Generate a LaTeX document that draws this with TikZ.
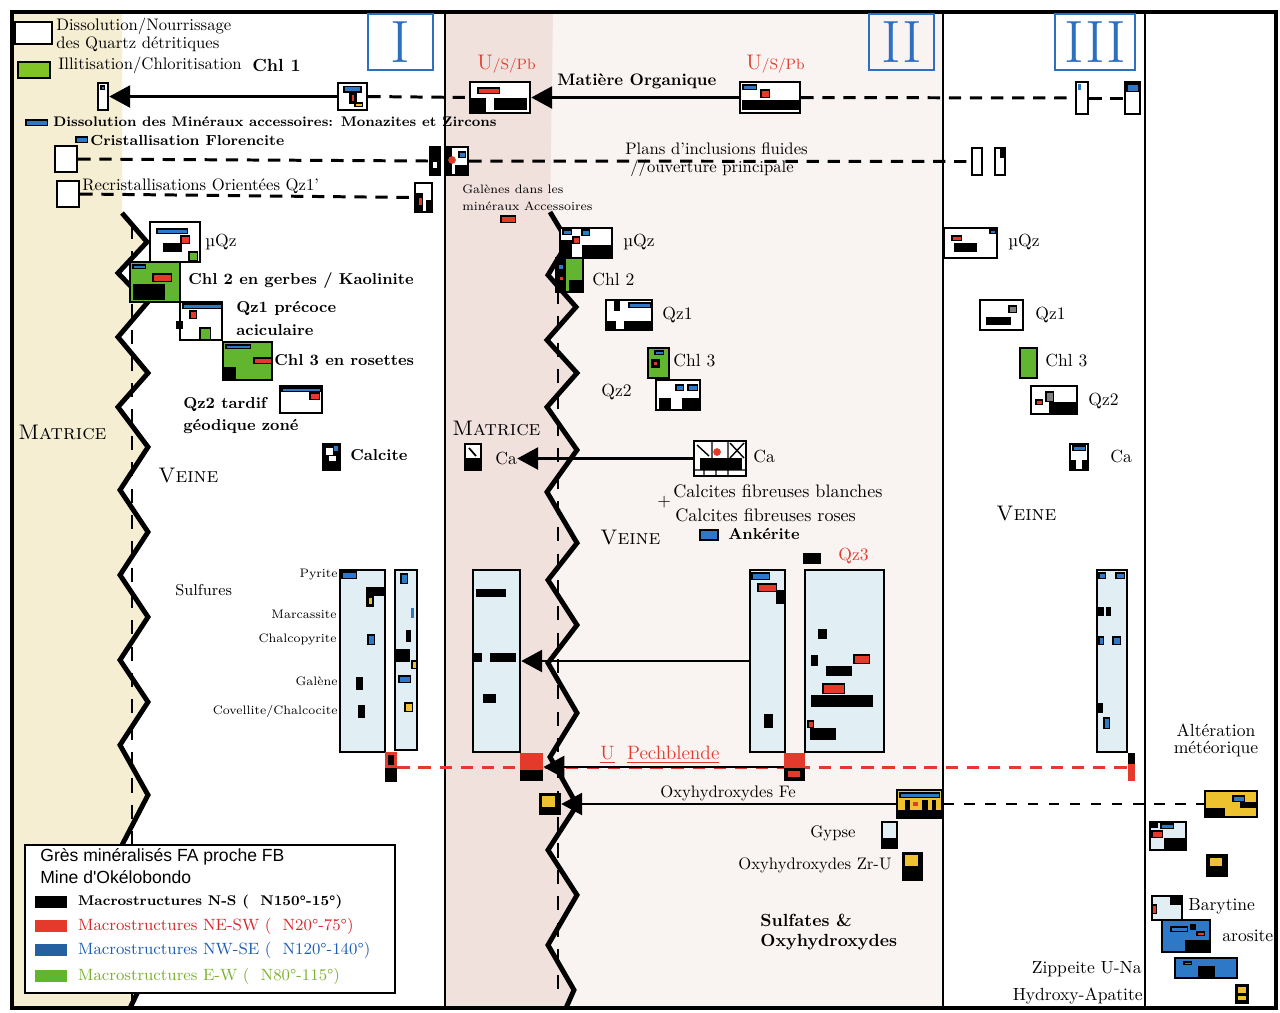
\documentclass[tikz,border=0pt]{standalone}
\usepackage{fontspec}
\newfontfamily\legfont{Liberation Sans}
\usetikzlibrary{arrows.meta, positioning, fit, calc}

\definecolor{matbeige}{HTML}{F5EED3}
\definecolor{matpink}{HTML}{F1E1DD}
\definecolor{veinpink}{HTML}{F9F3F2}
\definecolor{qzblue}{HTML}{E1EEF3}
\definecolor{mred}{HTML}{E43A2C}
\definecolor{mblue}{HTML}{2E78C8}
\definecolor{mgreen}{HTML}{62B52E}
\definecolor{myellow}{HTML}{EEC22E}
\definecolor{numblue}{HTML}{2F6FC0}
\definecolor{legred}{HTML}{D8262C}
\definecolor{legblue}{HTML}{1C5CB4}
\definecolor{leggreen}{HTML}{7CB030}

\tikzstyle{bigarrow} = [line width=1.6pt, -{Triangle[length=0.42cm,width=0.44cm]}]

\newcommand{\zigI}{(122,213) -- (147,242) -- (118,273) -- (147,303) -- (118,337) -- (148,373) -- (118,407) -- (148,447) -- (120,490) -- (148,532) -- (120,575) -- (148,617) -- (120,660) -- (148,702) -- (120,745) -- (148,795) -- (122,845) -- (146,890) -- (120,935) -- (146,975) -- (130,1008)}
\newcommand{\zigII}{(550,212) -- (568,242) -- (548,275) -- (576,307) -- (547,340) -- (577,373) -- (547,407) -- (577,450) -- (547,492) -- (577,543) -- (548,580) -- (577,625) -- (548,663) -- (577,713) -- (550,757) -- (577,805) -- (548,850) -- (577,895) -- (548,945) -- (574,990) -- (566,1008)}
\newcommand{\mk}[5]{\fill[#1] (#2,#3) rectangle (#4,#5);}
\newcommand{\bmk}[5]{\fill[black] (#2,#3) rectangle (#4,#5); \fill[#1] ($(#2,#3)+(1.5,1.5)$) rectangle ($(#4,#5)+(-1.5,-1.5)$);}

\begin{document}
\begin{tikzpicture}[
    x=0.02cm, y=-0.02cm,
    box/.style={draw=black, line width=1.4pt, inner sep=0pt, fill=white},
    qzbox/.style={box, fill=qzblue},
    chlbox/.style={box, fill=mgreen},
    numbox/.style={draw=numblue, line width=1.4pt, text=numblue, minimum width=1.3cm, minimum height=1.12cm, inner sep=0pt, font=\fontsize{34}{34}\selectfont},
    lab/.style={anchor=west, inner sep=0pt, font=\fontsize{10}{11}\selectfont},
    blab/.style={lab, font=\bfseries\fontsize{9}{10}\selectfont},
    slab/.style={lab, font=\fontsize{7}{8}\selectfont},
    zonelab/.style={lab, font=\fontsize{12}{13}\selectfont\scshape},
    swatch/.style={minimum width=0.66cm, minimum height=0.24cm, inner sep=0pt},
    dashline/.style={line width=1.7pt, dash pattern=on 7pt off 5pt},
    reddash/.style={dashline, mred},
    vdash/.style={line width=1.3pt, dash pattern=on 8pt off 7pt},
    zig/.style={line width=2.8pt, line join=miter}
]
\useasboundingbox (0,0) rectangle (1280,1012);
\fill[white] (0,0) rectangle (1280,1012);
\fill[veinpink] (445,12) rectangle (943,1008);
\fill[matbeige] (12,12) -- (122,12) -- \zigI -- (12,1008) -- cycle;
\fill[matpink] (445,12) -- (553,12) -- \zigII -- (445,1008) -- cycle;

% cadre et colonnes
\draw[line width=1.8pt] (12,12) rectangle (1276,1008);
\draw[line width=1.3pt] (445,12) -- (445,1008) (943,12) -- (943,1008) (1145,12) -- (1145,1008);
\draw[vdash] (132,225) -- (132,1000);
\draw[vdash] (558,290) -- (558,1000);
\draw[zig] \zigI;
\draw[zig] \zigII;

\node[numbox] (n1) at (400.5,42) {I};
\node[numbox] (n2) at (901.5,42) {II};
\node[numbox, minimum width=1.6cm] (n3) at (1095,42) {III};

% legende du haut
\node[box, fit={(15,22) (52,44)}] (lgw) {};
\node[box, fill=mgreen!80!yellow, fit={(18,62) (50,78)}] (lgg) {};
\node[lab, font=\fontsize{9.5}{10}\selectfont] (t1) at (56,26) {Dissolution/Nourrissage};
\node[lab, font=\fontsize{9.5}{10}\selectfont] (t2) at (56,44) {des Quartz détritiques};
\node[lab, font=\fontsize{9.5}{10}\selectfont] (t3) at (58,65) {Illitisation/Chloritisation};
\node[blab, font=\bfseries\fontsize{10}{11}\selectfont] (t4) at (252,65) {Chl 1};
\bmk{mblue}{25}{119}{48}{126}
\node[blab, font=\bfseries\fontsize{7.9}{10}\selectfont] (t5) at (53,122) {Dissolution des Minéraux accessoires: Monazites et Zircons};
\bmk{mblue}{75}{136}{88}{143}
\node[blab, font=\bfseries\fontsize{8.3}{10}\selectfont] (t6) at (90,140) {Cristallisation Florencite};

% rangee 1
\node[box, fit={(98,83) (108,110)}] (r1a) {};
\node[box, fit={(338,83) (367,110)}] (r1b) {};
\node[box, fit={(470,82) (530,113)}] (usp1) {};
\node[box, fit={(740,82) (800,113)}] (usp2) {};
\node[box, fit={(1076,82) (1088,114)}] (r1c) {};
\node[box, fit={(1125,82) (1140,114)}] (r1d) {};
\bmk{mblue}{100}{85}{105}{90}
\mk{black}{343}{86}{362}{93} \mk{mblue}{345}{87}{360}{91} \mk{black}{349}{93}{357}{104} \mk{mred}{352}{95}{354}{101}
\bmk{myellow}{354}{102}{363}{107}
\bmk{mred}{477}{87}{500}{94} \mk{black}{470}{98}{486}{113} \mk{black}{494}{98}{527}{110}
\bmk{mblue}{742}{84}{757}{90} \bmk{mred}{760}{89}{770}{98} \mk{black}{742}{100}{800}{110}
\mk{mblue}{1078}{84}{1081}{90}
\bmk{mblue}{1126}{83}{1139}{92}
\draw[bigarrow] (r1b.west) -- (r1a.east);
\draw[dashline] (r1b.east) -- (usp1.west);
\draw[bigarrow] (usp2.west) -- (usp1.east);
\draw[dashline] (usp2.east) -- (r1c.west);
\draw[dashline] (r1c.east) -- (r1d.west);
\node[lab, text=mred, font=\fontsize{12}{13}\selectfont] (u1) at (477,64) {U{\fontsize{8.5}{9}\selectfont/S/Pb}};
\node[lab, text=mred, font=\fontsize{12}{13}\selectfont] (u2) at (746,64) {U{\fontsize{8.5}{9}\selectfont/S/Pb}};
\node[blab, font=\bfseries\fontsize{9.5}{11}\selectfont] (mo) at (557,81) {Matière Organique};

% rangee 3 et 4
\node[box, fit={(55,146) (77,172)}] (w3) {};
\node[box, fill=black, fit={(430,147) (440,175)}] (k3) {};
\node[box, fit={(447,147) (468,175)}] (k3b) {};
\node[box, fit={(972,148) (982,175)}] (s3a) {};
\node[box, fit={(995,148) (1005,175)}] (s3b) {};
\mk{white}{433}{162}{437}{168}
\mk{black}{447}{147}{452}{175} \fill[mred] (452,160) circle (2.2pt); \bmk{mblue}{458}{151}{466}{158} \mk{black}{455}{165}{468}{175}
\mk{black}{1000}{149}{1004}{158}
\draw[dashline] (w3.east) -- (k3.west);
\draw[dashline] (k3b.east) -- (s3a.west);
\node[lab, font=\fontsize{9.5}{11}\selectfont] (pl1) at (625,149) {Plans d'inclusions fluides};
\node[lab, font=\fontsize{9.5}{11}\selectfont] (pl2) at (630,168) {//ouverture principale};
\node[box, fit={(57,181) (79,207)}] (w4) {};
\node[box, fit={(415,183) (432,212)}] (k4) {};
\mk{black}{415}{193}{423}{212} \mk{mred}{419}{198}{422}{205} \mk{black}{426}{200}{432}{212}
\draw[dashline] (w4.east) -- (k4.west);
\node[lab, font=\fontsize{9.5}{11}\selectfont] (rq) at (82,186) {Recristallisations Orientées Qz1'};
\node[slab] (ga1) at (462,189) {Galènes dans les};
\node[slab] (ga2) at (462,206) {minéraux Accessoires};
\bmk{mred}{500}{215}{516}{223}

% colonne I
\node[box, fit={(150,222) (200,262)}] (uq1) {};
\node[chlbox, fit={(130,262) (180,302)}] (ch2a) {};
\node[box, fit={(180,302) (222,340)}] (qz1a) {};
\node[chlbox, fit={(223,342) (272,380)}] (ch3a) {};
\node[box, fit={(280,386) (322,413)}] (qz2a) {};
\node[box, fill=black, fit={(323,444) (340,470)}] (cal1) {};
\bmk{mblue}{156}{228}{188}{234} \bmk{mred}{180}{235}{190}{244} \mk{black}{163}{243}{182}{252} \bmk{mgreen}{188}{251}{198}{261}
\bmk{mblue}{132}{264}{146}{269} \bmk{mred}{152}{273}{172}{282} \mk{black}{133}{284}{165}{300}
\bmk{mblue}{182}{303}{222}{309} \bmk{mred}{189}{310}{197}{319} \bmk{mgreen}{199}{327}{211}{340} \mk{black}{176}{321}{183}{329}
\bmk{mblue}{225}{344}{251}{349} \bmk{mred}{253}{357}{272}{364} \mk{black}{224}{367}{236}{380}
\bmk{mblue}{281}{387}{321}{392} \bmk{mred}{309}{392}{320}{400}
\mk{white}{326}{448}{333}{455} \mk{mblue}{334}{446}{338}{451} \mk{white}{329}{456}{336}{461}
\node[lab] (l1) at (205,242) {µQz};
\node[blab] (l2) at (188,281) {Chl 2 en gerbes / Kaolinite};
\node[blab] (l3) at (236,308) {Qz1 précoce};
\node[blab] (l4) at (236,330) {aciculaire};
\node[blab] (l5) at (274,360) {Chl 3 en rosettes};
\node[blab] (l6) at (183,404) {Qz2 tardif};
\node[blab] (l7) at (183,427) {géodique zoné};
\node[blab] (l8) at (350,455) {Calcite};
\node[zonelab] (mat1) at (18,432) {Matrice};
\node[zonelab] (vei1) at (158,476) {Veine};

% sulfures
\node[lab, font=\fontsize{9}{10}\selectfont] (sul) at (175,590) {Sulfures};
\node[slab, anchor=east] (py) at (338,575) {Pyrite};
\node[slab, anchor=east] (ma) at (337,614) {Marcassite};
\node[slab, anchor=east] (cp) at (337,639) {Chalcopyrite};
\node[slab, anchor=east] (gn) at (338,681) {Galène};
\node[slab, anchor=east] (cv) at (338,711) {Covellite/Chalcocite};
\node[qzbox, fit={(340,570) (385,752)}] (sa) {};
\node[qzbox, fit={(395,570) (417,750)}] (sb) {};
\bmk{mblue}{341}{571}{357}{579} \mk{black}{366}{587}{385}{596} \mk{black}{366}{596}{374}{607} \mk{myellow}{369}{598}{372}{604}
\bmk{mblue}{367}{634}{375}{645} \mk{black}{356}{677}{363}{690} \mk{black}{358}{705}{365}{718}
\bmk{mblue}{400}{573}{408}{584} \mk{mblue}{411}{608}{414}{618} \mk{black}{406}{630}{411}{642} \mk{black}{396}{649}{410}{662}
\bmk{myellow}{411}{660}{417}{669} \bmk{mblue}{398}{675}{411}{683} \bmk{myellow}{404}{702}{413}{712}
\node[qzbox, fit={(473,570) (520,752)}] (c2a) {};
\mk{black}{476}{589}{506}{597} \mk{black}{474}{653}{482}{662} \mk{black}{490}{653}{516}{662} \mk{black}{483}{694}{496}{703}

% colonne II
\node[box, fit={(560,228) (612,258)}] (uq2) {};
\node[chlbox, fit={(556,258) (583,292)}] (ch2b) {};
\node[box, fit={(606,300) (652,330)}] (qz1b) {};
\node[chlbox, fit={(648,348) (669,378)}] (ch3b) {};
\node[box, fit={(656,380) (700,410)}] (qz2b) {};
\mk{black}{560}{240}{572}{258} \mk{black}{582}{245}{612}{258} \bmk{mblue}{562}{229}{572}{235} \bmk{mblue}{581}{229}{590}{236} \bmk{mred}{572}{236}{580}{244}
\mk{black}{556}{258}{566}{292} \bmk{mblue}{557}{263}{564}{270} \mk{black}{569}{280}{583}{292} \mk{mred}{560}{277}{563}{280}
\bmk{mblue}{628}{302}{651}{308} \mk{black}{614}{301}{620}{311} \mk{black}{607}{321}{616}{330} \mk{black}{624}{321}{651}{330}
\bmk{mblue}{654}{350}{664}{355} \mk{black}{651}{359}{660}{368} \mk{mred}{654}{362}{657}{365}
\bmk{mblue}{675}{384}{684}{391} \bmk{mblue}{687}{384}{698}{391} \mk{black}{659}{398}{671}{410} \mk{black}{682}{398}{700}{410}
\node[lab] (l9) at (623,242) {µQz};
\node[lab] (l10) at (592,279) {Chl 2};
\node[lab] (l11) at (662,315) {Qz1};
\node[lab] (l12) at (673,360) {Chl 3};
\node[lab] (l13) at (601,392) {Qz2};
\node[zonelab] (mat2) at (452,428) {Matrice};
\node[box, fit={(465,444) (481,470)}] (ca1) {};
\mk{black}{465}{458}{481}{470} \draw[line width=1pt] (469,448) -- (476,456);
\node[lab] (cal2) at (495,458.5) {Ca};
\node[box, fit={(694,441) (746,476)}] (ca2) {};
\draw[line width=0.8pt] (712,441) -- (712,458) (728,441) -- (728,458) (730,443) -- (744,458) (744,443) -- (730,458) (697,445) -- (709,456) (694,470) -- (746,470) (704,470) -- (704,476) (716,470) -- (716,476) (728,470) -- (728,476);
\mk{black}{700}{458}{742}{470} \fill[mred] (717,452) circle (2.2pt);
\draw[bigarrow] (ca2.west) -- (cal2.east);
\node[lab] (l14) at (753,456) {Ca};
\node[lab, font=\fontsize{10.3}{11}\selectfont] (cf1) at (673,491) {Calcites fibreuses blanches};
\node[lab] (plus) at (657,502) {+};
\node[lab, font=\fontsize{10.3}{11}\selectfont] (cf2) at (675,515) {Calcites fibreuses roses};
\node[zonelab] (vei2) at (600,538) {Veine};
\node[box, line width=1pt, fill=mblue, fit={(700,530) (718,540)}] (ank) {};
\node[blab] (l15) at (728,534) {Ankérite};
\mk{black}{803}{553}{821}{564}
\node[lab, text=mred] (l16) at (838,556) {Qz3};
\node[qzbox, fit={(750,570) (785,752)}] (c2b) {};
\node[qzbox, fit={(805,570) (884,752)}] (c2c) {};
\bmk{mblue}{751}{572}{770}{580} \bmk{mred}{757}{583}{777}{592} \mk{black}{776}{590}{784}{604} \mk{black}{764}{714}{773}{728}
\mk{black}{818}{629}{827}{639} \mk{black}{811}{655}{818}{666} \bmk{mred}{853}{654}{870}{664} \mk{black}{826}{666}{852}{676}
\bmk{mred}{822}{683}{845}{694} \mk{black}{811}{695}{873}{707} \mk{black}{810}{728}{836}{740} \bmk{mred}{807}{720}{814}{728}
\draw[bigarrow] (c2b.west) -- (c2a.east);

% colonne III
\node[box, fit={(944,228) (997,258)}] (uq3) {};
\node[box, fit={(980,300) (1023,330)}] (qz1c) {};
\node[chlbox, fit={(1020,348) (1037,378)}] (ch3c) {};
\node[box, fit={(1031,386) (1077,414)}] (qz2c) {};
\node[box, fit={(1070,444) (1088,470)}] (ca3) {};
\bmk{mred}{951}{235}{962}{241} \mk{black}{954}{243}{977}{252} \bmk{mblue}{989}{229}{996}{234}
\mk{black}{986}{317}{1011}{325} \bmk{gray}{1008}{305}{1017}{313}
\bmk{gray}{1045}{391}{1054}{402} \bmk{mred}{1035}{399}{1043}{405} \mk{black}{1049}{402}{1077}{414}
\bmk{mblue}{1072}{445}{1086}{451} \mk{black}{1070}{460}{1076}{470} \mk{black}{1082}{460}{1088}{470}
\node[lab] (l17) at (1008,242) {µQz};
\node[lab] (l18) at (1035,315) {Qz1};
\node[lab] (l19) at (1045,360) {Chl 3};
\node[lab] (l20) at (1088,401) {Qz2};
\node[lab] (l21) at (1110,456) {Ca};
\node[zonelab] (vei3) at (996,514) {Veine};
\node[qzbox, fit={(1097,570) (1127,752)}] (c3) {};
\bmk{mblue}{1098}{572}{1106}{579} \bmk{mblue}{1115}{572}{1125}{579} \mk{black}{1098}{607}{1104}{616} \mk{black}{1106}{607}{1111}{616}
\bmk{mblue}{1098}{636}{1104}{645} \bmk{mblue}{1112}{636}{1121}{645} \mk{black}{1098}{703}{1103}{713} \bmk{mblue}{1103}{717}{1110}{729}

% pechblende
\node[fill=mred, inner sep=0pt, fit={(385,752) (397,782)}] (pb0) {};
\node[fill=mred, inner sep=0pt, fit={(1128,753) (1135,781)}] (pb3) {};
\draw[reddash] (pb0.east) -- (pb3.west);
\node[fill=mred, inner sep=0pt, fit={(520,753) (543,781)}] (pb1) {};
\node[fill=mred, inner sep=0pt, fit={(784,753) (805,781)}] (pb2) {};
\mk{black}{388}{755}{394}{765} \mk{black}{385}{768}{397}{782}
\mk{black}{520}{770}{543}{781}
\mk{black}{784}{768}{805}{781} \mk{mred}{788}{771}{800}{777}
\mk{black}{1128}{753}{1135}{764}
\draw[bigarrow] (pb2.west) -- (pb1.east);
\node[lab, text=mred, font=\fontsize{11}{12}\selectfont] (pbl) at (600,755) {\underline{U}\ \ \underline{Pechblende}};

% oxyhydroxydes
\node[box, fill=black, fit={(540,794) (560,814)}] (fe1) {};
\mk{myellow}{542}{796}{555}{807}
\node[box, fill=myellow, fit={(897,790) (942,818)}] (fe2) {};
\bmk{mblue}{899}{792}{940}{798} \mk{black}{897}{810}{942}{818} \mk{black}{905}{800}{910}{812} \mk{black}{922}{800}{928}{812} \mk{mred}{913}{802}{918}{806} \mk{black}{932}{800}{936}{810}
\node[box, fill=myellow, fit={(1205,791) (1257,817)}] (fe3) {};
\mk{black}{1205}{808}{1225}{817} \bmk{mblue}{1232}{795}{1245}{802} \mk{black}{1240}{802}{1257}{808}
\draw[bigarrow] (fe2.west) -- (fe1.east);
\draw[dashline, line width=1.3pt, dash pattern=on 6pt off 6pt] (fe2.east) -- (fe3.west);
\node[lab, font=\fontsize{9.5}{11}\selectfont] (l22) at (660,793) {Oxyhydroxydes Fe};
\node[qzbox, fit={(882,822) (897,848)}] (gyp) {};
\mk{black}{882}{838}{897}{848}
\node[box, fill=black, fit={(903,853) (922,880)}] (zru) {};
\mk{myellow}{905}{855}{918}{866}
\node[lab, font=\fontsize{9.5}{11}\selectfont] (l23) at (810,833) {Gypse};
\node[lab, font=\fontsize{9.5}{11}\selectfont] (l24) at (738,865) {Oxyhydroxydes Zr-U};
\node[blab, font=\bfseries\fontsize{10}{11}\selectfont] (l25) at (760,920) {Sulfates \&};
\node[blab, font=\bfseries\fontsize{10}{11}\selectfont] (l26) at (760,942) {Oxyhydroxydes};

% colonne IV
\node[lab, anchor=center] (alt1) at (1216,730) {Altération};
\node[lab, anchor=center] (alt2) at (1216,749) {météorique};
\node[qzbox, fit={(1150,822) (1186,850)}] (iva) {};
\bmk{mblue}{1160}{823}{1174}{829} \bmk{mred}{1151}{830}{1163}{838} \mk{black}{1164}{838}{1186}{850} \mk{black}{1150}{822}{1158}{828}
\node[box, fill=black, fit={(1207,855) (1227,876)}] (ivb) {};
\mk{myellow}{1210}{858}{1222}{866}
\node[qzbox, fit={(1152,896) (1182,920)}] (bar) {};
\bmk{mred}{1151}{904}{1157}{914} \mk{black}{1170}{896}{1182}{905}
\node[box, fill=mblue, fit={(1162,920) (1210,952)}] (jar) {};
\bmk{mblue}{1170}{926}{1188}{932} \mk{black}{1190}{924}{1196}{930} \bmk{mred}{1196}{931}{1205}{936} \mk{black}{1185}{940}{1210}{952}
\node[box, fill=mblue, fit={(1175,958) (1237,978)}] (zip) {};
\bmk{mred}{1183}{961}{1192}{965} \mk{black}{1198}{966}{1215}{978}
\node[box, fill=black, fit={(1236,985) (1248,1003)}] (hap) {};
\mk{myellow}{1238}{987}{1246}{993} \mk{myellow}{1238}{996}{1246}{1000}
\node[lab] (l27) at (1188,906) {Barytine};
\node[lab] (l28) at (1222,936) {arosite};
\node[lab, anchor=east] (l29) at (1142,969) {Zippeite U-Na};
\node[lab, anchor=east] (l30) at (1143,996) {Hydroxy-Apatite};

% legende
\node[box, line width=1.2pt, fit={(25,845) (395,993)}] (leg) {};
\node[lab, font=\legfont\fontsize{10}{11}\selectfont] (lg1) at (40,857) {Grès minéralisés FA proche FB};
\node[lab, font=\legfont\fontsize{10}{11}\selectfont] (lg2) at (40,877) {Mine d'Okélobondo};
\node[swatch, fill=black] (swns) at (51,902) {};
\node[swatch, fill=mred] (swne) at (51,926) {};
\node[swatch, fill=mblue!80!black] (swnw) at (51,950) {};
\node[swatch, fill=mgreen] (swew) at (51,976) {};
\node[lab, right=0.2cm of swns, font=\bfseries\fontsize{8}{10}\selectfont] {Macrostructures N-S ( \ N150°-15°)};
\node[lab, right=0.2cm of swne, text=legred, font=\fontsize{9.3}{10}\selectfont] {Macrostructures NE-SW ( \ N20°-75°)};
\node[lab, right=0.2cm of swnw, text=legblue, font=\fontsize{9.3}{10}\selectfont] {Macrostructures NW-SE ( \ N120°-140°)};
\node[lab, right=0.2cm of swew, text=leggreen, font=\fontsize{9.3}{10}\selectfont] {Macrostructures E-W ( \ N80°-115°)};
\end{tikzpicture}
\end{document}
